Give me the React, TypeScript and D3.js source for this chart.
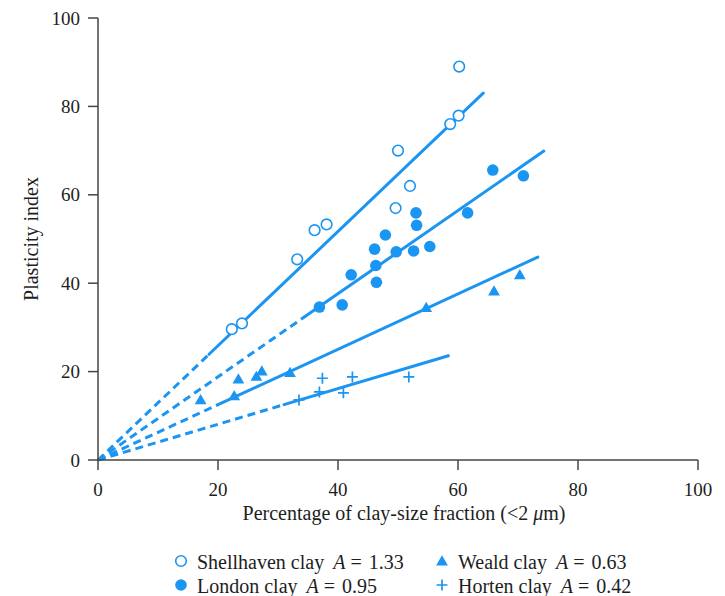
import React, { useEffect } from 'react';
import * as d3 from 'd3';

// Data
const shellhaven: [number, number][] = [
  [22.3, 29.6], [24.0, 30.9], [33.2, 45.4], [36.1, 52.0], [38.1, 53.3], [49.6, 57.0],
  [50.0, 70.0], [52.0, 62.0], [58.7, 76.0], [60.1, 77.9], [60.2, 89.0],
];
const london: [number, number][] = [
  [36.9, 34.6], [40.7, 35.1], [42.2, 41.9], [46.4, 40.2], [46.3, 44.0], [46.1, 47.7],
  [47.9, 50.9], [49.7, 47.1], [52.6, 47.3], [53.1, 53.1], [53.0, 55.9], [55.3, 48.3],
  [61.6, 55.9], [65.8, 65.6], [70.9, 64.3],
];
const weald: [number, number][] = [
  [17.1, 13.6], [22.7, 14.5], [23.4, 18.3], [26.4, 18.9], [27.3, 20.1], [32.0, 19.8],
  [54.7, 34.5], [66.0, 38.2], [70.3, 41.9],
];
const horten: [number, number][] = [
  [33.5, 13.6], [36.9, 15.4], [37.4, 18.5], [40.9, 15.2], [42.4, 18.8], [51.8, 18.8],
];

// trend lines: end point and x where the dashed extrapolation turns solid
const trendLines = [
  { name: 'Shellhaven', end: [64.2, 83.0], solidFrom: 18.5 },
  { name: 'London', end: [74.3, 69.9], solidFrom: 34.5 },
  { name: 'Weald', end: [73.3, 45.9], solidFrom: 20 },
  { name: 'Horten', end: [58.4, 23.6], solidFrom: 31 },
];

const legendItems = [
  { label: 'Shellhaven clay', a: '1.33', marker: 'open', col: 0, row: 0 },
  { label: 'London clay', a: '0.95', marker: 'filled', col: 0, row: 1 },
  { label: 'Weald clay', a: '0.63', marker: 'triangle', col: 1, row: 0 },
  { label: 'Horten clay', a: '0.42', marker: 'plus', col: 1, row: 1 },
];

const xTicks = [0, 20, 40, 60, 80, 100];
const yTicks = [0, 20, 40, 60, 80, 100];

const BLUE = '#1b95f2';
const AXIS = '#4a453f';
const TEXT = '#1e1e1e';
const FONT = '"Liberation Serif", "Times New Roman", serif';

const Marker = ({ kind, cx, cy }: { kind: string; cx: number; cy: number }) => {
  if (kind === 'open')
    return <circle cx={cx} cy={cy} r={5.3} fill="white" stroke={BLUE} strokeWidth={1.6} />;
  if (kind === 'filled') return <circle cx={cx} cy={cy} r={5.8} fill={BLUE} />;
  if (kind === 'triangle') {
    const p = d3.symbol().type(d3.symbolTriangle).size(60)()!;
    return <path d={p} transform={`translate(${cx},${cy + 1})`} fill={BLUE} />;
  }
  return (
    <path d={`M${cx - 5.5},${cy}H${cx + 5.5}M${cx},${cy - 5.5}V${cy + 5.5}`} stroke={BLUE} strokeWidth={1.7} />
  );
};

const App = () => {
  useEffect(() => {
    document.body.style.margin = '0';
  }, []);

  const width = 725;
  const height = 596;
  const x = d3.scaleLinear().domain([0, 100]).range([98, 698]);
  const y = d3.scaleLinear().domain([0, 100]).range([460, 18]);
  const line = d3.line<[number, number]>().x(d => x(d[0])).y(d => y(d[1]));

  const series = [
    { data: shellhaven, marker: 'open' },
    { data: london, marker: 'filled' },
    { data: weald, marker: 'triangle' },
    { data: horten, marker: 'plus' },
  ];

  return (
    <svg width={width} height={height} style={{ display: 'block', fontFamily: FONT }}>
      {/* trend lines */}
      {trendLines.map(t => {
        const slope = t.end[1] / t.end[0];
        const mid: [number, number] = [t.solidFrom, t.solidFrom * slope];
        return (
          <g key={t.name}>
            <path d={line([[0, 0], mid])!} stroke={BLUE} strokeWidth={3} fill="none" strokeDasharray="8,5" />
            <path d={line([mid, t.end as [number, number]])!} stroke={BLUE} strokeWidth={3} fill="none" strokeLinecap="round" />
          </g>
        );
      })}

      {/* points */}
      {series.map((s, i) => (
        <g key={i}>
          {s.data.map((d, j) => (
            <Marker key={j} kind={s.marker} cx={x(d[0])} cy={y(d[1])} />
          ))}
        </g>
      ))}

      {/* axes */}
      <g stroke={AXIS} strokeWidth={1.5} fill="none">
        <path d={`M${x(0)},${y(100)}V${y(0)}H${x(100)}`} />
        {yTicks.map(t => <path key={t} d={`M${x(0) - 10},${y(t)}H${x(0)}`} />)}
        {xTicks.map(t => <path key={t} d={`M${x(t)},${y(0)}V${y(0) + 10}`} />)}
      </g>
      <g fill={TEXT} fontSize={19}>
        {yTicks.map(t => (
          <text key={t} x={x(0) - 18} y={y(t)} dy="0.35em" textAnchor="end">{t}</text>
        ))}
        {xTicks.map(t => (
          <text key={t} x={x(t)} y={y(0) + 36} textAnchor="middle">{t}</text>
        ))}
      </g>
      <g fill={TEXT} fontSize={20}>
        <text x={404} y={520} textAnchor="middle">
          Percentage of clay-size fraction (&lt;2 <tspan fontStyle="italic">μ</tspan>m)
        </text>
        <text transform={`translate(38,${y(50)}) rotate(-90)`} textAnchor="middle">Plasticity index</text>
      </g>

      {/* legend */}
      <g fill={TEXT} fontSize={20}>
        {legendItems.map(it => {
          const mx = it.col === 0 ? 181 : 442;
          const my = it.row === 0 ? 561 : 585;
          return (
            <g key={it.label}>
              <Marker kind={it.marker} cx={mx} cy={my} />
              <text x={mx + 16} y={my + 8}>
                {it.label}
                <tspan dx={9} fontStyle="italic">A</tspan>
                <tspan dx={5}>=</tspan>
                <tspan dx={7}>{it.a}</tspan>
              </text>
            </g>
          );
        })}
      </g>
    </svg>
  );
};

export default App;
